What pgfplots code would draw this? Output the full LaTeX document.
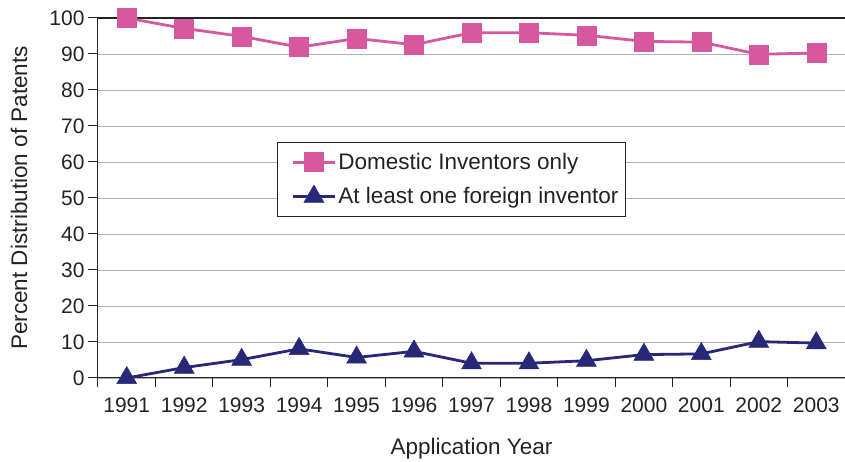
\documentclass[border=0pt]{standalone}
\usepackage{fontspec}
\setmainfont{Liberation Sans}
\usepackage{pgfplots}
\pgfplotsset{compat=1.18}
\definecolor{dompink}{RGB}{216,88,160}
\definecolor{fornavy}{RGB}{40,40,120}
\definecolor{txt}{RGB}{35,35,35}
\newcommand{\tickfont}{\fontsize{21}{25}\selectfont}
\newcommand{\labelfont}{\fontsize{22.5}{26}\selectfont}

\begin{document}
\begin{tikzpicture}
\path[use as bounding box] (-98pt,-84pt) rectangle (747pt,378pt);
\begin{axis}[
  at={(0pt,0pt)}, anchor=south west,
  scale only axis, width=747pt, height=360pt,
  xmin=-0.5, xmax=12.5, ymin=0, ymax=100,
  clip=false,
  axis x line*=bottom, axis y line*=left,
  axis line style={txt, line width=1pt},
  tick align=outside,
  xtick={0,...,12},
  xticklabels={1991,1992,1993,1994,1995,1996,1997,1998,1999,2000,2001,2002,2003},
  xticklabel style={yshift=-6pt},
  major x tick style={draw=none},
  minor xtick={-0.5,0.5,...,12.5},
  minor tick length=9pt,
  minor x tick style={txt, line width=1pt},
  ytick={0,10,...,90},
  extra y ticks={100},
  extra y tick style={major grid style={txt, line width=1.2pt}},
  ymajorgrids,
  major grid style={black!30, line width=0.9pt},
  major tick length=10pt,
  major y tick style={txt, line width=1pt},
  /pgf/number format/assume math mode=true,
  tick label style={font=\tickfont, text=txt},
  xlabel={Application Year},
  xlabel style={at={(axis description cs:0.5,-0.195)}, anchor=center, font=\labelfont, text=txt},
  ylabel={Percent Distribution of Patents},
  ylabel style={at={(axis description cs:-0.1058,0.5)}, anchor=center, font=\labelfont, text=txt},
  legend style={at={(rel axis cs:0.239,0.656)}, anchor=north west,
    draw=txt, line width=0.8pt, font=\labelfont, text=txt,
    inner xsep=5pt, inner ysep=9pt, row sep=12pt},
  legend cell align=left,
  legend image code/.code={\path[draw=none] (0pt,0pt) -- (53pt,0pt);
    \draw[mark repeat=2,mark phase=2,#1]
    plot coordinates {(11pt,0pt) (32pt,0pt) (53pt,0pt)};},
]
\addplot[dompink, line width=2.8pt, mark=square*, mark size=9.5pt,
  mark options={solid, line width=0.5pt}] coordinates {
  (0,100) (1,97.1) (2,94.9) (3,91.9) (4,94.3) (5,92.6) (6,95.9)
  (7,95.9) (8,95.2) (9,93.5) (10,93.3) (11,89.9) (12,90.3)};
\addlegendentry{Domestic Inventors only}
\addplot[fornavy, line width=2.8pt, mark=triangle*, mark size=11.5pt,
  mark options={solid, line width=0.5pt}] coordinates {
  (0,0) (1,2.9) (2,5.1) (3,8.1) (4,5.7) (5,7.4) (6,4.1)
  (7,4.1) (8,4.8) (9,6.5) (10,6.7) (11,10.1) (12,9.7)};
\addlegendentry{At least one foreign inventor}
\end{axis}
\end{tikzpicture}
\end{document}
